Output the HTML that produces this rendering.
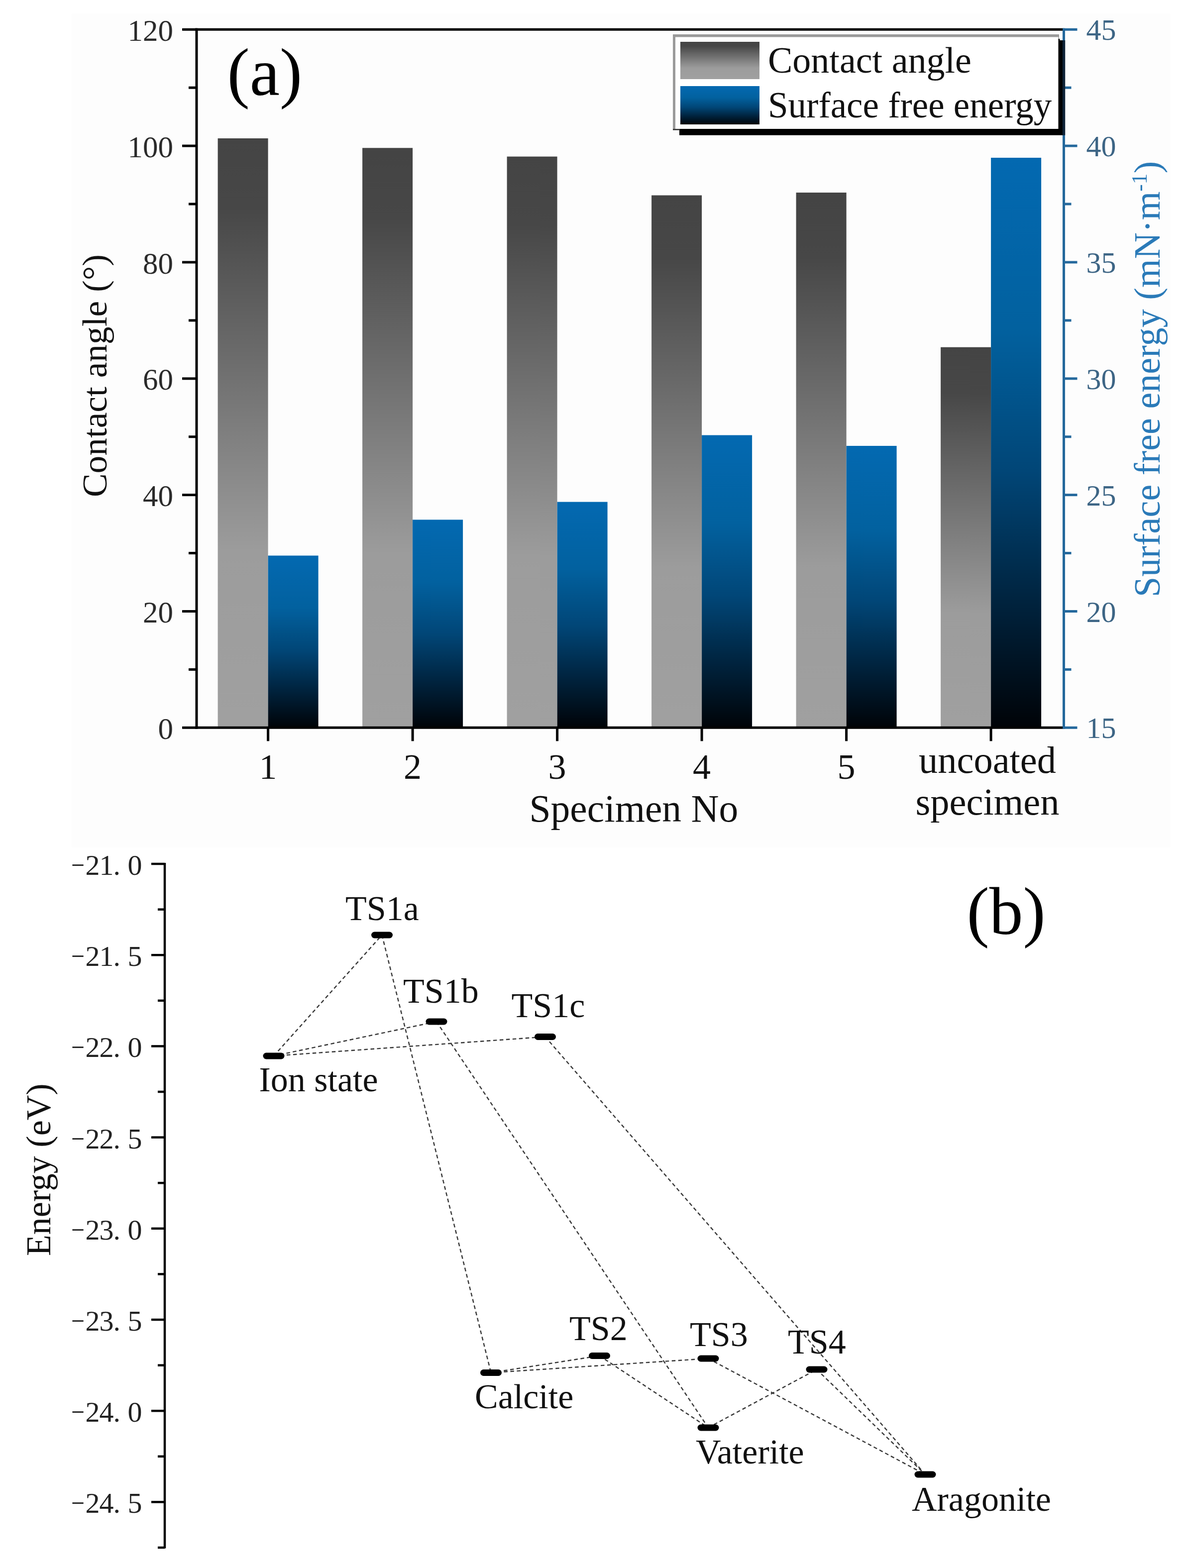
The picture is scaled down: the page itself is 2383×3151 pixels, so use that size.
<!DOCTYPE html>
<html><head><meta charset="utf-8"><title>Contact angle and energy profile</title>
<style>
html,body{margin:0;padding:0;background:#fff;}
body{width:2383px;height:3151px;overflow:hidden;}
svg{display:block;}
text{font-family:'Liberation Serif', 'Times New Roman', serif;}
</style></head><body>
<svg width="2383" height="3151" viewBox="0 0 2383 3151">
<defs>
<linearGradient id="gG" x1="0" y1="0" x2="0" y2="1">
<stop offset="0" stop-color="#444444"/>
<stop offset="0.12" stop-color="#474747"/>
<stop offset="0.7" stop-color="#9c9c9c"/>
<stop offset="1" stop-color="#a0a0a0"/>
</linearGradient>
<linearGradient id="gB" x1="0" y1="0" x2="0" y2="1">
<stop offset="0" stop-color="#0369b1"/>
<stop offset="0.3" stop-color="#02619f"/>
<stop offset="0.55" stop-color="#014677"/>
<stop offset="0.78" stop-color="#00233e"/>
<stop offset="1" stop-color="#000307"/>
</linearGradient>
</defs>
<rect x="0" y="0" width="2383" height="3151" fill="#ffffff"/>
<rect x="143.5" y="27.5" width="2208" height="1675.5" fill="#fdfdfd"/>

<rect x="437.6" y="278.0" width="101.0" height="1184.3" fill="url(#gG)"/>
<rect x="538.6" y="1116.5" width="101.0" height="345.8" fill="url(#gB)"/>
<rect x="728.1" y="297.3" width="101.0" height="1165.0" fill="url(#gG)"/>
<rect x="829.1" y="1044.4" width="101.0" height="417.9" fill="url(#gB)"/>
<rect x="1018.6" y="314.6" width="101.0" height="1147.7" fill="url(#gG)"/>
<rect x="1119.6" y="1008.6" width="101.0" height="453.7" fill="url(#gB)"/>
<rect x="1309.1" y="392.5" width="101.0" height="1069.8" fill="url(#gG)"/>
<rect x="1410.1" y="874.5" width="101.0" height="587.8" fill="url(#gB)"/>
<rect x="1599.6" y="387.0" width="101.0" height="1075.3" fill="url(#gG)"/>
<rect x="1700.6" y="896.0" width="101.0" height="566.3" fill="url(#gB)"/>
<rect x="1890.1" y="697.7" width="101.0" height="764.6" fill="url(#gG)"/>
<rect x="1991.1" y="317.0" width="101.0" height="1145.3" fill="url(#gB)"/>
<g stroke="#000" stroke-width="5" fill="none">
<line x1="395.0" y1="56.8" x2="395.0" y2="1464.8"/>
<line x1="392.5" y1="59.3" x2="2137.5" y2="59.3"/>
<line x1="392.5" y1="1462.3" x2="2137.5" y2="1462.3"/>
<line x1="366.0" y1="1462.3" x2="395.0" y2="1462.3"/>
<line x1="366.0" y1="1228.5" x2="395.0" y2="1228.5"/>
<line x1="366.0" y1="994.6" x2="395.0" y2="994.6"/>
<line x1="366.0" y1="760.8" x2="395.0" y2="760.8"/>
<line x1="366.0" y1="527.0" x2="395.0" y2="527.0"/>
<line x1="366.0" y1="293.1" x2="395.0" y2="293.1"/>
<line x1="366.0" y1="59.3" x2="395.0" y2="59.3"/>
<line x1="379.0" y1="1345.4" x2="395.0" y2="1345.4"/>
<line x1="379.0" y1="1111.5" x2="395.0" y2="1111.5"/>
<line x1="379.0" y1="877.7" x2="395.0" y2="877.7"/>
<line x1="379.0" y1="643.9" x2="395.0" y2="643.9"/>
<line x1="379.0" y1="410.0" x2="395.0" y2="410.0"/>
<line x1="379.0" y1="176.2" x2="395.0" y2="176.2"/>
<line x1="538.6" y1="1462.3" x2="538.6" y2="1489.3"/>
<line x1="829.1" y1="1462.3" x2="829.1" y2="1489.3"/>
<line x1="1119.6" y1="1462.3" x2="1119.6" y2="1489.3"/>
<line x1="1410.1" y1="1462.3" x2="1410.1" y2="1489.3"/>
<line x1="1700.6" y1="1462.3" x2="1700.6" y2="1489.3"/>
<line x1="1991.1" y1="1462.3" x2="1991.1" y2="1489.3"/>
</g>
<g stroke="#24689c" stroke-width="5" fill="none">
<line x1="2137.5" y1="56.8" x2="2137.5" y2="1464.8"/>
<line x1="2137.5" y1="1462.3" x2="2164.5" y2="1462.3"/>
<line x1="2137.5" y1="1228.5" x2="2164.5" y2="1228.5"/>
<line x1="2137.5" y1="994.6" x2="2164.5" y2="994.6"/>
<line x1="2137.5" y1="760.8" x2="2164.5" y2="760.8"/>
<line x1="2137.5" y1="527.0" x2="2164.5" y2="527.0"/>
<line x1="2137.5" y1="293.1" x2="2164.5" y2="293.1"/>
<line x1="2137.5" y1="59.3" x2="2164.5" y2="59.3"/>
<line x1="2137.5" y1="1345.4" x2="2152.5" y2="1345.4"/>
<line x1="2137.5" y1="1111.5" x2="2152.5" y2="1111.5"/>
<line x1="2137.5" y1="877.7" x2="2152.5" y2="877.7"/>
<line x1="2137.5" y1="643.9" x2="2152.5" y2="643.9"/>
<line x1="2137.5" y1="410.0" x2="2152.5" y2="410.0"/>
<line x1="2137.5" y1="176.2" x2="2152.5" y2="176.2"/>
</g>
<g font-size="61" fill="#2b2b2b" text-anchor="end">
<text x="348" y="1484.8">0</text>
<text x="348" y="1251.0">20</text>
<text x="348" y="1017.1">40</text>
<text x="348" y="783.3">60</text>
<text x="348" y="549.5">80</text>
<text x="348" y="315.6">100</text>
<text x="348" y="81.8">120</text>
</g>
<g font-size="60" fill="#3d6585" text-anchor="start">
<text x="2182.5" y="1483.3">15</text>
<text x="2182.5" y="1249.5">20</text>
<text x="2182.5" y="1015.6">25</text>
<text x="2182.5" y="781.8">30</text>
<text x="2182.5" y="548.0">35</text>
<text x="2182.5" y="314.1">40</text>
<text x="2182.5" y="80.3">45</text>
</g>
<g font-size="72" fill="#111" text-anchor="middle">
<text x="538.6" y="1565">1</text>
<text x="829.1" y="1565">2</text>
<text x="1119.6" y="1565">3</text>
<text x="1410.1" y="1565">4</text>
<text x="1700.6" y="1565">5</text>
</g>
<g font-size="76.5" fill="#111" text-anchor="middle">
<text x="1984" y="1552.5">uncoated</text>
<text x="1984" y="1636.5">specimen</text>
</g>
<text x="1063.5" y="1651" font-size="77.5" fill="#111">Specimen No</text>
<text transform="translate(213.5 999) rotate(-90) scale(1.019 1)" font-size="70" fill="#111">Contact angle (°)</text>
<text transform="translate(2329.5 1200) rotate(-90) scale(0.988 1)" font-size="75" fill="#2a7ab8">Surface free energy (mN·m<tspan dy="-26" font-size="44">-1</tspan><tspan dy="26">)</tspan></text>
<text x="456.6" y="190.8" font-size="135.7" fill="#000">(a)</text>
<rect x="1365" y="81" width="771" height="190.7" fill="#000"/>
<rect x="1352" y="69" width="776" height="190" fill="#9a9a9a"/>
<rect x="1357" y="74.5" width="769.5" height="184.5" fill="#fff"/>
<rect x="2126.5" y="78" width="3" height="181" fill="#111"/>
<rect x="1352" y="259" width="14" height="2.6" fill="#333"/>
<line x1="2137.5" y1="81" x2="2137.5" y2="271.7" stroke="#0e2236" stroke-width="5.5"/>
<rect x="1367" y="84" width="159" height="75" fill="url(#gG)"/>
<rect x="1367" y="173" width="159" height="77" fill="url(#gB)"/>
<text x="1543" y="145.5" font-size="74" fill="#111">Contact angle</text>
<text x="1543" y="236" font-size="73" fill="#111">Surface free energy</text>
<g stroke="#000" stroke-width="4.5" fill="none">
<line x1="331.0" y1="1734.0" x2="331.0" y2="3111.5"/>
<line x1="304.0" y1="1736.0" x2="331.0" y2="1736.0"/>
<line x1="304.0" y1="1919.2" x2="331.0" y2="1919.2"/>
<line x1="304.0" y1="2102.4" x2="331.0" y2="2102.4"/>
<line x1="304.0" y1="2285.6" x2="331.0" y2="2285.6"/>
<line x1="304.0" y1="2468.8" x2="331.0" y2="2468.8"/>
<line x1="304.0" y1="2652.0" x2="331.0" y2="2652.0"/>
<line x1="304.0" y1="2835.2" x2="331.0" y2="2835.2"/>
<line x1="304.0" y1="3018.4" x2="331.0" y2="3018.4"/>
<line x1="317.0" y1="1827.6" x2="331.0" y2="1827.6"/>
<line x1="317.0" y1="2010.8" x2="331.0" y2="2010.8"/>
<line x1="317.0" y1="2194.0" x2="331.0" y2="2194.0"/>
<line x1="317.0" y1="2377.2" x2="331.0" y2="2377.2"/>
<line x1="317.0" y1="2560.4" x2="331.0" y2="2560.4"/>
<line x1="317.0" y1="2743.6" x2="331.0" y2="2743.6"/>
<line x1="317.0" y1="2926.8" x2="331.0" y2="2926.8"/>
<line x1="317.0" y1="3110.0" x2="331.0" y2="3110.0"/>
</g>
<g font-size="58" fill="#222">
<text x="143" y="1758.0" textLength="27" lengthAdjust="spacingAndGlyphs">−</text>
<text x="171.5 199.5 227.5 256.5" y="1758.0">21.0</text>
<text x="143" y="1941.2" textLength="27" lengthAdjust="spacingAndGlyphs">−</text>
<text x="171.5 199.5 227.5 256.5" y="1941.2">21.5</text>
<text x="143" y="2124.4" textLength="27" lengthAdjust="spacingAndGlyphs">−</text>
<text x="171.5 199.5 227.5 256.5" y="2124.4">22.0</text>
<text x="143" y="2307.6" textLength="27" lengthAdjust="spacingAndGlyphs">−</text>
<text x="171.5 199.5 227.5 256.5" y="2307.6">22.5</text>
<text x="143" y="2490.8" textLength="27" lengthAdjust="spacingAndGlyphs">−</text>
<text x="171.5 199.5 227.5 256.5" y="2490.8">23.0</text>
<text x="143" y="2674.0" textLength="27" lengthAdjust="spacingAndGlyphs">−</text>
<text x="171.5 199.5 227.5 256.5" y="2674.0">23.5</text>
<text x="143" y="2857.2" textLength="27" lengthAdjust="spacingAndGlyphs">−</text>
<text x="171.5 199.5 227.5 256.5" y="2857.2">24.0</text>
<text x="143" y="3040.4" textLength="27" lengthAdjust="spacingAndGlyphs">−</text>
<text x="171.5 199.5 227.5 256.5" y="3040.4">24.5</text>
</g>
<text transform="translate(101 2524) rotate(-90)" font-size="70" fill="#111">Energy (eV)</text>
<g stroke="#383838" stroke-width="2.4" stroke-dasharray="7.5 5.5" fill="none">
<line x1="550" y1="2122" x2="767.5" y2="1879"/>
<line x1="550" y1="2122" x2="877" y2="2053"/>
<line x1="550" y1="2122" x2="1095.5" y2="2083.5"/>
<line x1="767.5" y1="1879" x2="986.5" y2="2758.5"/>
<line x1="877" y1="2053" x2="1423" y2="2869"/>
<line x1="1095.5" y1="2083.5" x2="1859" y2="2963"/>
<line x1="986.5" y1="2758.5" x2="1204.5" y2="2724.5"/>
<line x1="1204.5" y1="2724.5" x2="1423" y2="2869"/>
<line x1="986.5" y1="2758.5" x2="1423" y2="2730"/>
<line x1="1423" y1="2730" x2="1859" y2="2963"/>
<line x1="1423" y1="2869" x2="1641" y2="2752"/>
<line x1="1641" y1="2752" x2="1859" y2="2963"/>
</g>
<g stroke="#000" stroke-width="13" stroke-linecap="round">
<line x1="535" y1="2122" x2="565" y2="2122"/>
<line x1="752.5" y1="1879" x2="782.5" y2="1879"/>
<line x1="862" y1="2053" x2="892" y2="2053"/>
<line x1="1080.5" y1="2083.5" x2="1110.5" y2="2083.5"/>
<line x1="971.5" y1="2758.5" x2="1001.5" y2="2758.5"/>
<line x1="1189.5" y1="2724.5" x2="1219.5" y2="2724.5"/>
<line x1="1408" y1="2730" x2="1438" y2="2730"/>
<line x1="1626" y1="2752" x2="1656" y2="2752"/>
<line x1="1408" y1="2869" x2="1438" y2="2869"/>
<line x1="1844" y1="2963" x2="1874" y2="2963"/>
</g>
<g font-size="70" fill="#111">
<text x="694" y="1849">TS1a</text>
<text x="810" y="2014.5">TS1b</text>
<text x="1027.5" y="2043.5">TS1c</text>
<text x="520.5" y="2193">Ion state</text>
<text x="954" y="2830">Calcite</text>
<text x="1144" y="2692.5">TS2</text>
<text x="1386" y="2704.5">TS3</text>
<text x="1583" y="2719.5">TS4</text>
<text x="1398" y="2940.5">Vaterite</text>
<text x="1832" y="3036">Aragonite</text>
</g>
<text x="1942.6" y="1876.5" font-size="135.7" fill="#000">(b)</text>
</svg>
</body></html>
